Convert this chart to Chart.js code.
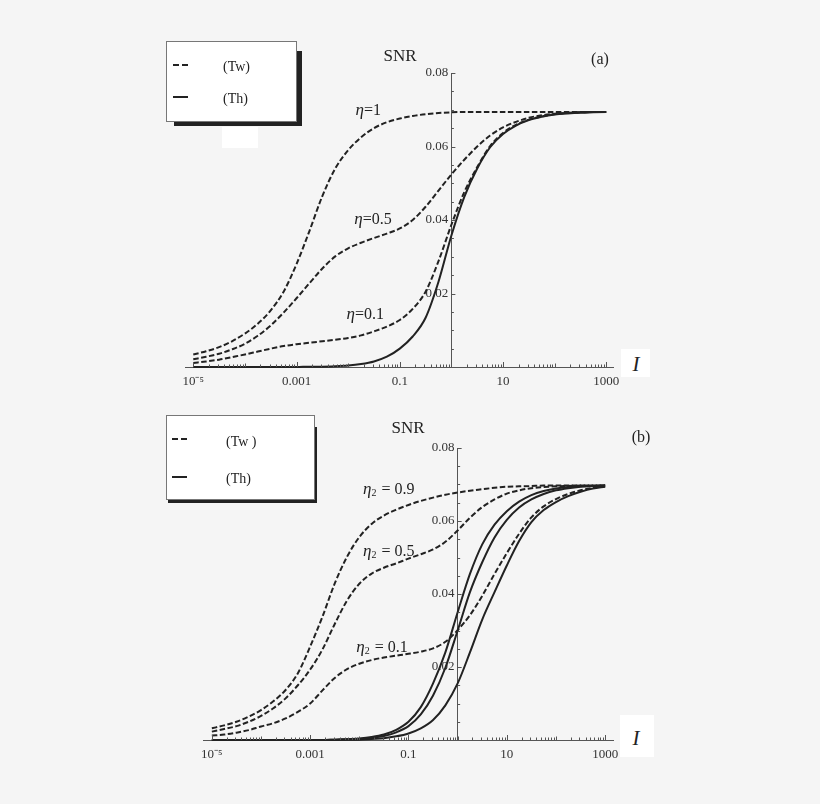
<!DOCTYPE html>
<html>
<head>
<meta charset="UTF-8">
<title>SNR vs I</title>
<script src="https://cdn.jsdelivr.net/npm/chart.js"></script>
<style>
body { margin: 0; background-color: #f5f5f5; font-family: "Liberation Serif", serif; color: #222; }
#page { position: relative; width: 820px; height: 804px; overflow: hidden; }
canvas { position: absolute; left: 0; }
.shadow { position: absolute; background-color: #222; }
.legend { position: absolute; background-color: #fff; border: 1px solid #777; box-sizing: border-box; }
.legend .dash { position: absolute; width: 15px; height: 2px; background: repeating-linear-gradient(90deg, #222 0 6px, transparent 6px 9px); }
.legend .solid { position: absolute; width: 15px; height: 2px; background-color: #222; }
.legend .txt { position: absolute; font-size: 14px; line-height: 16px; white-space: pre; color: #222; filter: grayscale(1); }
.patch { position: absolute; background-color: #fff; }
.lab { position: absolute; transform: translate(-50%, -50%); white-space: nowrap; color: #222; }
.ivar { font-style: italic; font-size: 21px; }
</style>
</head>
<body>
<div id="page">
  <canvas id="chartA" width="820" height="400" style="top:0"></canvas>
  <canvas id="chartB" width="820" height="380" style="top:400px"></canvas>

  <!-- panel (a) extras -->
  <div class="shadow" style="left:174px;top:51px;width:128px;height:75px"></div>
  <div class="legend" style="left:166px;top:41px;width:131px;height:81px">
    <div class="dash" style="left:6px;top:22px"></div>
    <div class="solid" style="left:6px;top:54px"></div>
    <div class="txt" style="left:56px;top:17px">(Tw)</div>
    <div class="txt" style="left:56px;top:49px">(Th)</div>
  </div>
  <div class="patch" style="left:222px;top:127px;width:36px;height:21px"></div>
  <div class="lab" style="left:400px;top:56px;font-size:17px">SNR</div>
  <div class="lab" style="left:600px;top:59px;font-size:16px">(a)</div>
  <div class="patch" style="left:621px;top:349px;width:29px;height:28px"></div>
  <div class="lab ivar" style="left:636px;top:364px">I</div>

  <!-- panel (b) extras -->
  <div class="shadow" style="left:168px;top:427px;width:149px;height:76px"></div>
  <div class="legend" style="left:166px;top:415px;width:149px;height:85px">
    <div class="dash" style="left:5px;top:22px"></div>
    <div class="solid" style="left:5px;top:60px"></div>
    <div class="txt" style="left:59px;top:18px">(Tw )</div>
    <div class="txt" style="left:59px;top:55px">(Th)</div>
  </div>
  <div class="lab" style="left:408px;top:428px;font-size:17px">SNR</div>
  <div class="lab" style="left:641px;top:437px;font-size:16px">(b)</div>
  <div class="patch" style="left:620px;top:715px;width:34px;height:42px"></div>
  <div class="lab ivar" style="left:636px;top:738px">I</div>
</div>
<script>
// log10(I) sample points, quarter decades from 10^-5 to 10^3
const LOG_I = [-5, -4.75, -4.5, -4.25, -4, -3.75, -3.5, -3.25, -3, -2.75, -2.5, -2.25, -2, -1.75, -1.5, -1.25, -1,
               -0.75, -0.5, -0.25, 0, 0.25, 0.5, 0.75, 1, 1.25, 1.5, 1.75, 2, 2.25, 2.5, 2.75, 3];

// Panel (a): eta = 1, 0.5, 0.1 (Tw, dashed) and Th (solid)
const A_TW_ETA1  = [0.0034, 0.0043, 0.0054, 0.0070, 0.0091, 0.0118, 0.0154, 0.0205, 0.0280, 0.0370, 0.0465, 0.0540, 0.0590, 0.0625, 0.0650, 0.0666, 0.0676,
                    0.0683, 0.0688, 0.0691, 0.0693, 0.0694, 0.0694, 0.0694, 0.0694, 0.0694, 0.0694, 0.0694, 0.0694, 0.0694, 0.0694, 0.0694, 0.0694];
const A_TW_ETA05 = [0.0021, 0.0028, 0.0036, 0.0048, 0.0063, 0.0085, 0.0113, 0.0148, 0.0187, 0.0228, 0.0268, 0.0301, 0.0323, 0.0338, 0.0351, 0.0363, 0.0377,
                    0.0400, 0.0436, 0.0480, 0.0524, 0.0564, 0.0600, 0.0630, 0.0652, 0.0667, 0.0678, 0.0685, 0.0689, 0.0691, 0.0693, 0.0694, 0.0694];
const A_TW_ETA01 = [0.0011, 0.0015, 0.0020, 0.0027, 0.0034, 0.0042, 0.0050, 0.0057, 0.0062, 0.0066, 0.0070, 0.0074, 0.0079, 0.0086, 0.0097, 0.0110, 0.0128,
                    0.0158, 0.0205, 0.0288, 0.0387, 0.0476, 0.0544, 0.0601, 0.0637, 0.0659, 0.0673, 0.0682, 0.0688, 0.0691, 0.0693, 0.0694, 0.0694];
const A_TH       = [0.0000, 0.0000, 0.0000, 0.0000, 0.0000, 0.0000, 0.0000, 0.0000, 0.0000, 0.0001, 0.0001, 0.0002, 0.0004, 0.0008, 0.0015, 0.0028, 0.0050,
                    0.0083, 0.0134, 0.0232, 0.0358, 0.0463, 0.0540, 0.0598, 0.0634, 0.0657, 0.0672, 0.0681, 0.0687, 0.0690, 0.0692, 0.0693, 0.0694];

// Panel (b): eta2 = 0.9, 0.5, 0.1 (Tw, dashed) and three Th curves (solid)
const B_TW_ETA09 = [0.0032, 0.0040, 0.0050, 0.0064, 0.0082, 0.0106, 0.0137, 0.0183, 0.0256, 0.0338, 0.0429, 0.0502, 0.0556, 0.0592, 0.0615, 0.0631, 0.0644,
                    0.0655, 0.0664, 0.0672, 0.0678, 0.0683, 0.0687, 0.0691, 0.0694, 0.0695, 0.0696, 0.0697, 0.0697, 0.0697, 0.0697, 0.0697, 0.0697];
const B_TW_ETA05 = [0.0023, 0.0030, 0.0038, 0.0050, 0.0066, 0.0087, 0.0114, 0.0150, 0.0193, 0.0248, 0.0318, 0.0382, 0.0428, 0.0456, 0.0472, 0.0484, 0.0497,
                    0.0509, 0.0522, 0.0543, 0.0574, 0.0609, 0.0638, 0.0659, 0.0675, 0.0684, 0.0690, 0.0693, 0.0695, 0.0696, 0.0697, 0.0697, 0.0697];
const B_TW_ETA01 = [0.0012, 0.0015, 0.0020, 0.0027, 0.0037, 0.0046, 0.0059, 0.0077, 0.0100, 0.0136, 0.0170, 0.0194, 0.0209, 0.0219, 0.0226, 0.0231, 0.0236,
                    0.0242, 0.0251, 0.0269, 0.0301, 0.0342, 0.0395, 0.0455, 0.0512, 0.0565, 0.0610, 0.0640, 0.0660, 0.0674, 0.0684, 0.0691, 0.0695];
const B_TH_1     = [0.0000, 0.0000, 0.0000, 0.0000, 0.0000, 0.0000, 0.0000, 0.0000, 0.0000, 0.0000, 0.0001, 0.0002, 0.0004, 0.0008, 0.0015, 0.0028, 0.0050,
                    0.0090, 0.0155, 0.0240, 0.0350, 0.0455, 0.0536, 0.0590, 0.0627, 0.0653, 0.0671, 0.0682, 0.0689, 0.0693, 0.0695, 0.0696, 0.0697];
const B_TH_2     = [0.0000, 0.0000, 0.0000, 0.0000, 0.0000, 0.0000, 0.0000, 0.0000, 0.0000, 0.0000, 0.0001, 0.0002, 0.0003, 0.0006, 0.0011, 0.0021, 0.0038,
                    0.0070, 0.0122, 0.0198, 0.0300, 0.0405, 0.0487, 0.0555, 0.0603, 0.0637, 0.0659, 0.0674, 0.0684, 0.0690, 0.0694, 0.0696, 0.0697];
const B_TH_3     = [0.0000, 0.0000, 0.0000, 0.0000, 0.0000, 0.0000, 0.0000, 0.0000, 0.0000, 0.0000, 0.0000, 0.0001, 0.0001, 0.0003, 0.0005, 0.0010, 0.0018,
                    0.0032, 0.0055, 0.0095, 0.0155, 0.0240, 0.0330, 0.0405, 0.0478, 0.0545, 0.0597, 0.0630, 0.0652, 0.0668, 0.0680, 0.0689, 0.0694];

// Tick labels (y labels carry a trailing space: Chart.js right-aligns them flush on a value-positioned axis)
const X_TICKS       = [1e-5, 1e-3, 1e-1, 10, 1000];
const X_TICK_LABELS = ['10⁻⁵', '0.001', '0.1', '10', '1000'];
const Y_TICKS       = [0.02, 0.04, 0.06, 0.08];
const Y_TICK_LABELS = ['0.02 ', '0.04 ', '0.06 ', '0.08 '];

const LINE_COLOR = '#222';
const AXIS_COLOR = '#555';
const FONT       = 'Liberation Serif';

const toPoints = (series) => LOG_I.map((e, i) => ({x: Math.pow(10, e), y: series[i]}));

const curve = (series, dashed) => ({
    data: toPoints(series),
    borderColor: LINE_COLOR,
    borderWidth: 2,
    borderDash: dashed ? [5.5, 2.5] : [],
    pointRadius: 0,
    cubicInterpolationMode: 'monotone',
    clip: 4,
});

// Inward tick marks, Mathematica style
const axisTicks = {
    id: 'axisTicks',
    afterDraw(chart) {
        const {ctx, scales: {x, y}} = chart;
        const yBase = y.getPixelForValue(0);
        const xBase = x.getPixelForValue(1);
        ctx.save();
        ctx.strokeStyle = AXIS_COLOR;
        ctx.lineWidth   = 1;
        ctx.beginPath();
        for (let e = -5; e <= 3; e++)
        {
            for (let m = 1; m <= 9; m++)
            {
                const v = m * Math.pow(10, e);
                if (v > x.max * 1.0001) break;
                const major = X_TICKS.some((t) => Math.abs(t - v) <= t * 1e-6);
                const len   = major ? 5 : (m === 1 ? 3.5 : 2.5);
                const px    = Math.round(x.getPixelForValue(v)) + 0.5;
                ctx.moveTo(px, yBase);
                ctx.lineTo(px, yBase - len);
            }
        }
        for (let k = 1; k <= 16; k++)
        {
            const py  = Math.round(y.getPixelForValue(k * 0.005)) + 0.5;
            const len = k % 4 === 0 ? 4 : 2.5;
            ctx.moveTo(xBase, py);
            ctx.lineTo(xBase + len, py);
        }
        ctx.stroke();
        ctx.restore();
    }
};

// eta labels placed in data coordinates
const curveLabels = {
    id: 'curveLabels',
    afterDraw(chart, args, opts) {
        const {ctx, scales: {x, y}} = chart;
        ctx.save();
        ctx.fillStyle    = '#222';
        ctx.textBaseline = 'middle';
        (opts.items || []).forEach((it) => {
            const cx = x.getPixelForValue(it.at[0]);
            const cy = y.getPixelForValue(it.at[1]);
            ctx.font = `italic 17px "${FONT}"`;
            const wEta = ctx.measureText('η').width;
            ctx.font = `10px "${FONT}"`;
            const wSub = it.sub ? ctx.measureText(it.sub).width + 1 : 0;
            ctx.font = `16px "${FONT}"`;
            const wTxt = ctx.measureText(it.text).width;
            let px = cx - (wEta + wSub + wTxt) / 2;
            ctx.font = `italic 17px "${FONT}"`;
            ctx.fillText('η', px, cy);
            px += wEta;
            if (it.sub)
            {
                ctx.font = `10px "${FONT}"`;
                ctx.fillText(it.sub, px, cy + 3);
                px += wSub;
            }
            ctx.font = `16px "${FONT}"`;
            ctx.fillText(it.text, px, cy);
        });
        ctx.restore();
    }
};

const makeChart = (id, datasets, xMin, xMax, pad, xAxisHeight, labels) => new Chart(document.getElementById(id), {
    type: 'line',
    data: {datasets},
    plugins: [axisTicks, curveLabels],
    options: {
        responsive: false,
        animation: false,
        layout: {padding: pad},
        plugins: {
            legend: {display: false},
            tooltip: {enabled: false},
            curveLabels: {items: labels},
        },
        scales: {
            x: {
                type: 'logarithmic',
                min: xMin,
                max: xMax,
                afterFit: (scale) => { scale.height = xAxisHeight; },
                afterBuildTicks: (scale) => { scale.ticks = X_TICKS.map((v) => ({value: v})); },
                grid: {drawOnChartArea: false, drawTicks: false},
                border: {color: AXIS_COLOR, width: 1},
                ticks: {
                    autoSkip: false,
                    maxRotation: 0,
                    padding: 7,
                    color: '#333',
                    font: {family: FONT, size: 13},
                    callback: (v, i) => X_TICK_LABELS[i],
                },
            },
            y: {
                type: 'linear',
                position: {x: 1},
                min: 0,
                max: 0.08,
                afterBuildTicks: (scale) => { scale.ticks = Y_TICKS.map((v) => ({value: v})); },
                grid: {drawOnChartArea: false, drawTicks: false},
                border: {color: AXIS_COLOR, width: 1},
                ticks: {
                    color: '#333',
                    font: {family: FONT, size: 13},
                    callback: (v, i) => Y_TICK_LABELS[i],
                },
            },
        },
    },
});

makeChart('chartA',
    [curve(A_TW_ETA1, true), curve(A_TW_ETA05, true), curve(A_TW_ETA01, true), curve(A_TH, false)],
    Math.pow(10, -5.16), Math.pow(10, 3.13),
    {left: 185, right: 207, top: 73, bottom: 0}, 33,
    [
        {at: [Math.pow(10, -1.61), 0.0697], sub: '', text: '=1'},
        {at: [Math.pow(10, -1.52), 0.0400], sub: '', text: '=0.5'},
        {at: [Math.pow(10, -1.67), 0.0142], sub: '', text: '=0.1'},
    ]);

makeChart('chartB',
    [curve(B_TW_ETA09, true), curve(B_TW_ETA05, true), curve(B_TW_ETA01, true),
     curve(B_TH_1, false), curve(B_TH_2, false), curve(B_TH_3, false)],
    Math.pow(10, -5.18), Math.pow(10, 3.16),
    {left: 203, right: 207, top: 48, bottom: 0}, 40,
    [
        {at: [Math.pow(10, -1.40), 0.0685], sub: '2', text: ' = 0.9'},
        {at: [Math.pow(10, -1.40), 0.0515], sub: '2', text: ' = 0.5'},
        {at: [Math.pow(10, -1.54), 0.0252], sub: '2', text: ' = 0.1'},
    ]);
</script>
</body>
</html>
